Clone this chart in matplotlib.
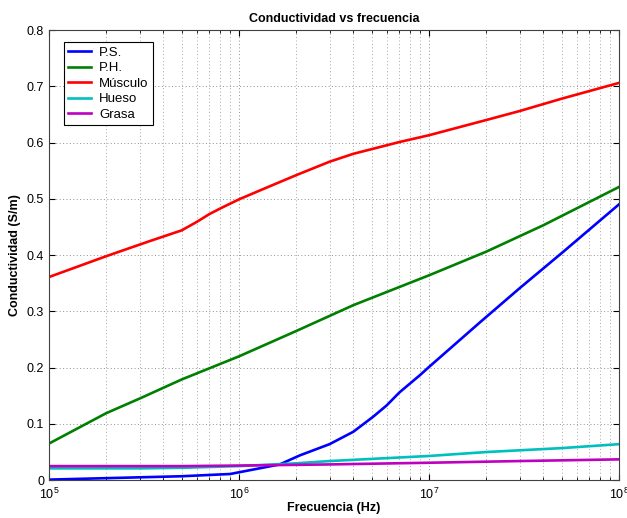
import matplotlib
matplotlib.use('Agg')
import matplotlib.pyplot as plt
import numpy as np

plt.rcParams['font.family'] = ['Liberation Sans', 'DejaVu Sans']

# frecuencias (Hz) y conductividades (S/m)
f_ps = [1e5, 5e5, 9e5, 1e6, 1.64e6, 2.09e6, 3e6, 4e6, 5.1e6, 6e6, 7e6, 9e6, 1e7, 1.85e7, 3e7, 5.1e7, 1e8]
ps = [0.001, 0.007, 0.011, 0.014, 0.028, 0.044, 0.064, 0.086, 0.113, 0.133, 0.156, 0.187, 0.201, 0.280, 0.341, 0.406, 0.490]

f_ph = [1e5, 2e5, 3e5, 5e5, 1e6, 2e6, 4e6, 1e7, 2e7, 4e7, 1e8]
ph = [0.065, 0.119, 0.145, 0.179, 0.220, 0.265, 0.311, 0.364, 0.406, 0.453, 0.521]

f_mus = [1e5, 2e5, 3.4e5, 5e5, 6e5, 7e5, 8.1e5, 1e6, 1.4e6, 2e6, 3e6, 4e6, 7e6, 1e7, 2e7, 3e7, 5e7, 1e8]
mus = [0.361, 0.398, 0.425, 0.444, 0.459, 0.473, 0.484, 0.499, 0.520, 0.542, 0.566, 0.580, 0.601, 0.613, 0.640, 0.656, 0.678, 0.706]

f_hue = [1e5, 3e5, 5e5, 1e6, 2e6, 3e6, 1e7, 2e7, 5e7, 1e8]
hue = [0.021, 0.021, 0.022, 0.025, 0.030, 0.034, 0.043, 0.050, 0.057, 0.064]

f_gra = [1e5, 5e5, 1e6, 3e6, 1e7, 3e7, 1e8]
gra = [0.025, 0.025, 0.026, 0.028, 0.031, 0.034, 0.037]

fig = plt.figure(figsize=(6.27, 5.18), dpi=100)
ax = fig.add_axes([0.078, 0.073, 0.909, 0.869])

lw = 1.9
ax.semilogx(f_ps, ps, color='#0000ff', lw=lw, label='P.S.')
ax.semilogx(f_ph, ph, color='#008000', lw=lw, label='P.H.')
ax.semilogx(f_mus, mus, color='#ff0000', lw=lw, label='Músculo')
ax.semilogx(f_hue, hue, color='#00bfbf', lw=lw, label='Hueso')
ax.semilogx(f_gra, gra, color='#bf00bf', lw=lw, label='Grasa')

ax.set_xlim(1e5, 1e8)
ax.set_ylim(0, 0.8)
ax.set_yticks(np.arange(0, 0.81, 0.1))
ax.set_yticklabels(['0', '0.1', '0.2', '0.3', '0.4', '0.5', '0.6', '0.7', '0.8'])

ax.grid(True, which='major', ls=(0, (1, 2.5)), color='#909090', lw=0.7)
ax.grid(True, which='minor', axis='x', ls=(0, (1, 2.5)), color='#a8a8a8', lw=0.7)
ax.tick_params(which='both', direction='in', top=True, right=True, labelsize=9)
ax.tick_params(which='major', length=4)
ax.tick_params(which='minor', length=2)
ax.tick_params(axis='x', pad=5)
for s in ax.spines.values():
    s.set_color('#404040')

ax.set_title('Conductividad vs frecuencia', fontsize=9, fontweight='bold')
ax.set_xlabel('Frecuencia (Hz)', fontsize=9, fontweight='bold', labelpad=0)
ax.set_ylabel('Conductividad (S/m)', fontsize=9, fontweight='bold')

leg = ax.legend(loc='upper left', bbox_to_anchor=(0.026, 0.973), fontsize=9.5,
                fancybox=False, framealpha=1, edgecolor='black', borderaxespad=0,
                handlelength=1.75, handletextpad=0.6, borderpad=0.35, labelspacing=0.24)
leg.get_frame().set_linewidth(0.8)

fig.savefig('out.png', dpi=100)
